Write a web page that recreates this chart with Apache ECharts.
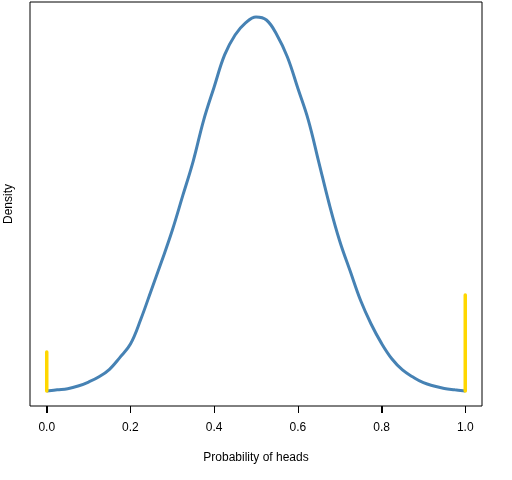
<!DOCTYPE html>
<html>
<head>
<meta charset="utf-8">
<script src="https://cdn.jsdelivr.net/npm/echarts@6/dist/echarts.min.js"></script>
<style>
html,body{margin:0;padding:0;background:#fff;}
#chart{width:512px;height:480px;}
</style>
</head>
<body>
<div id="chart"></div>
<script>
// Probability grid (x) and density values
const probs = [0,0.025,0.05,0.075,0.1,0.125,0.15,0.175,0.2,0.225,0.25,0.275,0.3,0.325,0.35,0.375,0.4,0.425,0.45,0.475,0.5,
               0.525,0.55,0.575,0.6,0.625,0.65,0.675,0.7,0.725,0.75,0.775,0.8,0.825,0.85,0.875,0.9,0.925,0.95,0.975,1.0];
const density = [0.000,0.009,0.017,0.036,0.065,0.103,0.157,0.243,0.339,0.520,0.730,0.940,1.160,1.410,1.660,1.956,2.195,2.426,2.570,2.657,2.700,
                 2.678,2.570,2.411,2.185,1.956,1.653,1.350,1.083,0.866,0.653,0.484,0.344,0.231,0.152,0.101,0.060,0.036,0.019,0.009,0.000];
// Point masses at the ends
const spikeX = [0, 1];
const spikeH = [0.282, 0.693];
const tickValues = [0, 0.2, 0.4, 0.6, 0.8, 1.0];
const xLabel = 'Probability of heads';
const yLabel = 'Density';

const yMax = Math.max(...density);
const yMin = -0.04 * yMax;
const font = 'Liberation Sans, Arial, sans-serif';

const chart = echarts.init(document.getElementById('chart'), null, {renderer: 'canvas'});
const titles = [
  {type: 'text', x: 256, y: 458, style: {text: xLabel, fill: '#000', font: '12px ' + font, textAlign: 'center', textVerticalAlign: 'middle'}},
  {type: 'text', x: 9, y: 204, rotation: Math.PI / 2, style: {text: yLabel, fill: '#000', font: '12px ' + font, textAlign: 'center', textVerticalAlign: 'middle'}}
];
chart.setOption({
  animation: false,
  backgroundColor: '#fff',
  grid: {left: 30, right: 30, top: 2, bottom: 74, show: true, borderColor: '#000', borderWidth: 1, backgroundColor: 'transparent'},
  xAxis: {
    type: 'value', min: -0.04, max: 1.04,
    axisLine: {show: false, onZero: false},
    splitLine: {show: false},
    axisTick: {show: true, length: 7, lineStyle: {color: '#000', width: 1}, customValues: tickValues},
    axisLabel: {show: true, color: '#000', fontSize: 12, fontFamily: font, margin: 16,
      customValues: tickValues, formatter: v => v.toFixed(1)}
  },
  yAxis: {
    type: 'value', min: yMin, max: 1.04 * yMax,
    axisLine: {show: false, onZero: false}, axisTick: {show: false}, axisLabel: {show: false}, splitLine: {show: false}
  },
  graphic: titles,
  series: [
    {
      type: 'line', showSymbol: false, smooth: 0.4, clip: false,
      data: probs.map((p, i) => [p, density[i]]),
      lineStyle: {color: '#4682B4', width: 3}
    },
    ...spikeX.map((sx, i) => ({
      type: 'line', showSymbol: false, clip: false,
      data: [[sx, 0], [sx, spikeH[i]]],
      lineStyle: {color: '#FFD700', width: 3.5, cap: 'round'}
    }))
  ]
});

// Tick marks below the plot box, positioned through the chart's own x scale
try {
  const ticks = tickValues.map(v => {
    const p = chart.convertToPixel({gridIndex: 0}, [v, yMin]);
    const x = Math.round(p[0]) + 0.5;
    const y = Math.round(p[1]);
    return {type: 'line', z: 100, shape: {x1: x, y1: y, x2: x, y2: y + 7}, style: {stroke: '#000', lineWidth: 1}};
  });
  chart.setOption({graphic: titles.concat(ticks)}, {replaceMerge: ['graphic']});
} catch (e) { /* keep chart without extra ticks */ }
</script>
</body>
</html>
